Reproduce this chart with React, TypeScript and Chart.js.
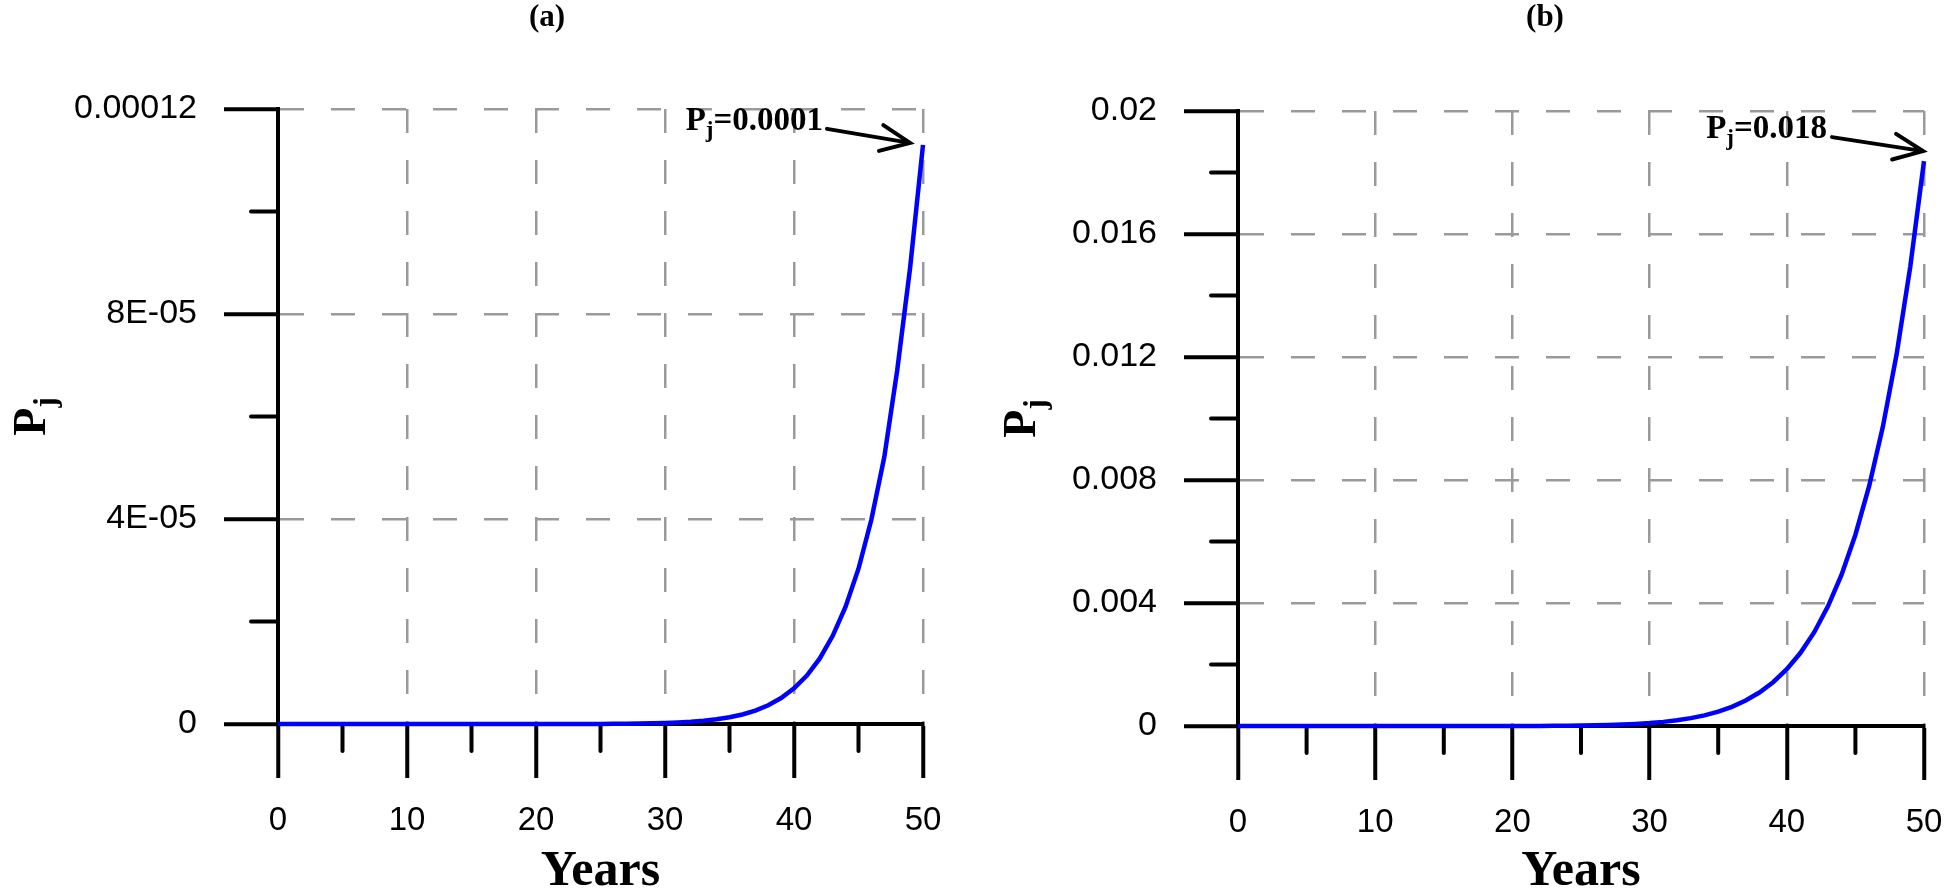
import React, { useEffect, useRef } from "react";
import { Chart, registerables } from "chart.js";

Chart.register(...registerables);

// ---------------- data ----------------
const years = [
  0, 1, 2, 3, 4, 5, 6, 7, 8, 9, 10, 11, 12, 13, 14, 15, 16, 17, 18, 19, 20, 21, 22, 23, 24, 25,
  26, 27, 28, 29, 30, 31, 32, 33, 34, 35, 36, 37, 38, 39, 40, 41, 42, 43, 44, 45, 46, 47, 48, 49, 50,
];

const pjA = [
  0, 0, 0, 0, 0, 0, 0, 0, 0, 0,
  0, 0, 0, 0, 0, 0, 0, 0, 0, 0,
  1.2e-9, 2.2e-9, 4.0e-9, 6.9e-9, 1.17e-8, 1.9e-8, 3.2e-8, 5.1e-8, 8.0e-8, 1.24e-7,
  1.9e-7, 2.9e-7, 4.3e-7, 6.3e-7, 9.1e-7, 1.31e-6, 1.86e-6, 2.62e-6, 3.66e-6, 5.06e-6,
  6.95e-6, 9.46e-6, 1.28e-5, 1.72e-5, 2.29e-5, 3.03e-5, 3.99e-5, 5.21e-5, 6.9e-5, 8.9e-5,
  1.13e-4,
];

const pjB = [
  0, 0, 0, 0, 0, 0, 0, 0, 0, 0,
  0, 0, 0, 0, 0, 7.5e-8, 1.5e-7, 2.7e-7, 5.0e-7, 8.7e-7,
  1.5e-6, 2.4e-6, 3.9e-6, 6.2e-6, 9.6e-6, 1.46e-5, 2.19e-5, 3.22e-5, 4.69e-5, 6.73e-5,
  9.55e-5, 1.34e-4, 1.85e-4, 2.55e-4, 3.47e-4, 4.67e-4, 6.23e-4, 8.28e-4, 1.089e-3, 1.424e-3,
  1.847e-3, 2.38e-3, 3.05e-3, 3.89e-3, 4.93e-3, 6.22e-3, 7.8e-3, 9.73e-3, 1.208e-2, 1.494e-2,
  1.837e-2,
];

const xTickValues = [0, 5, 10, 15, 20, 25, 30, 35, 40, 45, 50];
const xTickLabels = ["0", "10", "20", "30", "40", "50"];

const yTickValuesA = [0, 2e-5, 4e-5, 6e-5, 8e-5, 1e-4, 1.2e-4];
const yTickLabelsA = ["0", "4E-05", "8E-05", "0.00012"];

const yTickValuesB = [0, 0.002, 0.004, 0.006, 0.008, 0.01, 0.012, 0.014, 0.016, 0.018, 0.02];
const yTickLabelsB = ["0", "0.004", "0.008", "0.012", "0.016", "0.02"];

const panelTitles = ["(a)", "(b)"];
const xAxisTitle = "Years";
const yAxisTitleMain = "P";
const yAxisTitleSub = "j";
const annotationTexts = ["=0.0001", "=0.018"];

// ---------------- styling ----------------
const SANS = "'Liberation Sans', Arial, Helvetica, sans-serif";
const SERIF = "'Liberation Serif', 'Times New Roman', Times, serif";
const GRID = "#9a9a9a";

type Annot = {
  text: string;
  textDx: number;
  textDy: number;
  startDx: number;
  startDy: number;
  tipDx: number;
  tipDy: number;
};

type PanelCfg = {
  key: string;
  left: number;
  values: number[];
  yTicks: number[];
  yLabels: string[];
  yMax: number;
  title: string;
  titleX: number;
  yTitleX: number;
  padTop: number;
  padRight: number;
  yWidth: number;
  xHeight: number;
  annot: Annot;
};

function drawSubText(
  ctx: CanvasRenderingContext2D,
  x: number,
  y: number,
  main: string,
  sub: string,
  rest: string,
  size: number,
  subSize: number,
  subDrop: number
) {
  ctx.font = `bold ${size}px ${SERIF}`;
  const wMain = ctx.measureText(main).width;
  ctx.fillText(main, x, y);
  ctx.font = `bold ${subSize}px ${SERIF}`;
  const wSub = ctx.measureText(sub).width;
  ctx.fillText(sub, x + wMain, y + subDrop);
  if (rest) {
    ctx.font = `bold ${size}px ${SERIF}`;
    ctx.fillText(rest, x + wMain + wSub, y);
  }
}

function measureSubText(
  ctx: CanvasRenderingContext2D,
  main: string,
  sub: string,
  rest: string,
  size: number,
  subSize: number
) {
  ctx.font = `bold ${size}px ${SERIF}`;
  let w = ctx.measureText(main).width + (rest ? ctx.measureText(rest).width : 0);
  ctx.font = `bold ${subSize}px ${SERIF}`;
  w += ctx.measureText(sub).width;
  return w;
}

function makeExtras(cfg: PanelCfg) {
  return {
    id: "extras" + cfg.key,
    beforeDatasetsDraw(chart: any) {
      const { ctx, chartArea: ca } = chart;
      const xs = chart.scales.x;
      const ys = chart.scales.y;
      ctx.save();
      ctx.strokeStyle = "#000";
      ctx.lineWidth = 4;
      ctx.lineCap = "round";
      xs.ticks.forEach((t: any, i: number) => {
        if (i % 2 === 1) {
          const px = xs.getPixelForValue(t.value);
          ctx.beginPath();
          ctx.moveTo(px, ca.bottom + 2);
          ctx.lineTo(px, ca.bottom + 27);
          ctx.stroke();
        }
      });
      ys.ticks.forEach((t: any, i: number) => {
        if (i % 2 === 1) {
          const py = ys.getPixelForValue(t.value);
          ctx.beginPath();
          ctx.moveTo(ca.left - 2, py);
          ctx.lineTo(ca.left - 27, py);
          ctx.stroke();
        }
      });
      ctx.restore();
    },
    afterDraw(chart: any) {
      const { ctx, chartArea: ca } = chart;
      const xs = chart.scales.x;
      const ys = chart.scales.y;
      ctx.save();
      ctx.fillStyle = "#000";

      // panel title
      ctx.font = `bold 31px ${SERIF}`;
      ctx.textAlign = "center";
      ctx.textBaseline = "middle";
      ctx.fillText(cfg.title, cfg.titleX, 18);

      // y axis title P_j (rotated)
      ctx.save();
      ctx.textAlign = "left";
      ctx.textBaseline = "alphabetic";
      const ySize = 46;
      const ySub = 31;
      const wT = measureSubText(ctx, yAxisTitleMain, yAxisTitleSub, "", ySize, ySub);
      ctx.translate(cfg.yTitleX, (ca.top + ca.bottom) / 2);
      ctx.rotate(-Math.PI / 2);
      drawSubText(ctx, -wT / 2, ySize * 0.33, yAxisTitleMain, yAxisTitleSub, "", ySize, ySub, ySize * 0.22);
      ctx.restore();

      // annotation with arrow
      const last = cfg.values.length - 1;
      const px = xs.getPixelForValue(years[last]);
      const py = ys.getPixelForValue(cfg.values[last]);
      const a = cfg.annot;
      ctx.textAlign = "left";
      ctx.textBaseline = "alphabetic";
      const aw = measureSubText(ctx, "P", "j", a.text, 33, 23);
      drawSubText(ctx, px + a.textDx - aw, py + a.textDy, "P", "j", a.text, 33, 23, 7);

      const sx = px + a.startDx;
      const sy = py + a.startDy;
      const tx = px + a.tipDx;
      const ty = py + a.tipDy;
      ctx.strokeStyle = "#000";
      ctx.lineWidth = 4;
      ctx.lineCap = "round";
      ctx.beginPath();
      ctx.moveTo(sx, sy);
      ctx.lineTo(tx, ty);
      const ang = Math.atan2(sy - ty, sx - tx);
      const hl = 32;
      const spread = (24 * Math.PI) / 180;
      ctx.moveTo(tx + hl * Math.cos(ang + spread), ty + hl * Math.sin(ang + spread));
      ctx.lineTo(tx, ty);
      ctx.lineTo(tx + hl * Math.cos(ang - spread), ty + hl * Math.sin(ang - spread));
      ctx.stroke();

      ctx.restore();
    },
  };
}

function Panel({ cfg }: { cfg: PanelCfg }) {
  const ref = useRef<HTMLCanvasElement>(null);
  useEffect(() => {
    const isMajorX = (v: number) => Math.abs(v / 10 - Math.round(v / 10)) < 1e-6;
    const step = cfg.yTicks[1] - cfg.yTicks[0];
    const isMajorY = (v: number) => Math.round(v / step) % 2 === 0;

    const chart = new Chart(ref.current as HTMLCanvasElement, {
      type: "line",
      data: {
        datasets: [
          {
            data: years.map((x, i) => ({ x, y: cfg.values[i] })),
            borderColor: "#0000ff",
            borderWidth: 4.5,
            pointRadius: 0,
            tension: 0,
            fill: false,
            clip: false as any,
          },
        ],
      },
      options: {
        responsive: false,
        animation: false,
        devicePixelRatio: 1,
        layout: { padding: { top: cfg.padTop, right: cfg.padRight, left: 0, bottom: 0 } },
        plugins: {
          legend: { display: false },
          tooltip: { enabled: false },
          title: { display: false },
        },
        scales: {
          x: {
            type: "linear",
            min: 0,
            max: 50,
            afterBuildTicks: (s: any) => {
              s.ticks = xTickValues.map((v) => ({ value: v }));
            },
            afterFit: (s: any) => {
              s.height = cfg.xHeight;
              s.paddingLeft = 0;
              s.paddingRight = 0;
            },
            ticks: {
              autoSkip: false,
              maxRotation: 0,
              padding: 23,
              color: "#000",
              font: { family: SANS, size: 33 },
              callback: (_v: any, i: number) => (i % 2 === 0 ? xTickLabels[i / 2] : ""),
            },
            grid: {
              color: (c: any) => (c.tick && isMajorX(c.tick.value) ? GRID : "rgba(0,0,0,0)"),
              lineWidth: 2.5,
              drawTicks: true,
              tickLength: 54,
              tickWidth: 4,
              tickColor: (c: any) => (c.tick && isMajorX(c.tick.value) ? "#000" : "rgba(0,0,0,0)"),
            },
            border: { display: true, color: "#000", width: 4, dash: [24, 27] },
            title: {
              display: true,
              text: xAxisTitle,
              color: "#000",
              font: { family: SERIF, size: 50, weight: "bold", lineHeight: 1 },
              padding: { top: 0, bottom: -2 },
            },
          },
          y: {
            type: "linear",
            min: 0,
            max: cfg.yMax,
            afterBuildTicks: (s: any) => {
              s.ticks = cfg.yTicks.map((v) => ({ value: v }));
            },
            afterFit: (s: any) => {
              s.width = cfg.yWidth;
              s.paddingTop = 0;
              s.paddingBottom = 0;
            },
            ticks: {
              autoSkip: false,
              padding: 27,
              color: "#000",
              font: { family: SANS, size: 34 },
              callback: (_v: any, i: number) => (i % 2 === 0 ? cfg.yLabels[i / 2] : ""),
            },
            grid: {
              color: (c: any) => (c.tick && isMajorY(c.tick.value) ? GRID : "rgba(0,0,0,0)"),
              lineWidth: 2.5,
              drawTicks: true,
              tickLength: 54,
              tickWidth: 4,
              tickColor: (c: any) => (c.tick && isMajorY(c.tick.value) ? "#000" : "rgba(0,0,0,0)"),
            },
            border: { display: true, color: "#000", width: 4, dash: [24, 27] },
          },
        },
      } as any,
      plugins: [makeExtras(cfg)],
    });
    return () => chart.destroy();
  }, [cfg]);

  return (
    <canvas
      ref={ref}
      width={972}
      height={895}
      style={{ position: "absolute", left: cfg.left, top: 0, width: 972, height: 895 }}
    />
  );
}

const panelA: PanelCfg = {
  key: "a",
  left: 0,
  values: pjA,
  yTicks: yTickValuesA,
  yLabels: yTickLabelsA,
  yMax: 1.2e-4,
  title: panelTitles[0],
  titleX: 547,
  yTitleX: 30,
  padTop: 109,
  padRight: 49,
  yWidth: 278,
  xHeight: 171,
  annot: { text: annotationTexts[0], textDx: -100, textDy: -15, startDx: -96, startDy: -16, tipDx: -13, tipDy: -2 },
};

const panelB: PanelCfg = {
  key: "b",
  left: 972,
  values: pjB,
  yTicks: yTickValuesB,
  yLabels: yTickLabelsB,
  yMax: 0.02,
  title: panelTitles[1],
  titleX: 573,
  yTitleX: 48,
  padTop: 111,
  padRight: 20,
  yWidth: 266,
  xHeight: 169,
  annot: { text: annotationTexts[1], textDx: -97, textDy: -23, startDx: -92, startDy: -24, tipDx: -1, tipDy: -10 },
};

export default function App() {
  useEffect(() => {
    document.body.style.margin = "0";
    document.body.style.overflow = "hidden";
  }, []);
  return (
    <div style={{ position: "fixed", left: 0, top: 0, width: 1944, height: 895, overflow: "hidden", background: "#fff" }}>
      <Panel cfg={panelA} />
      <Panel cfg={panelB} />
    </div>
  );
}
